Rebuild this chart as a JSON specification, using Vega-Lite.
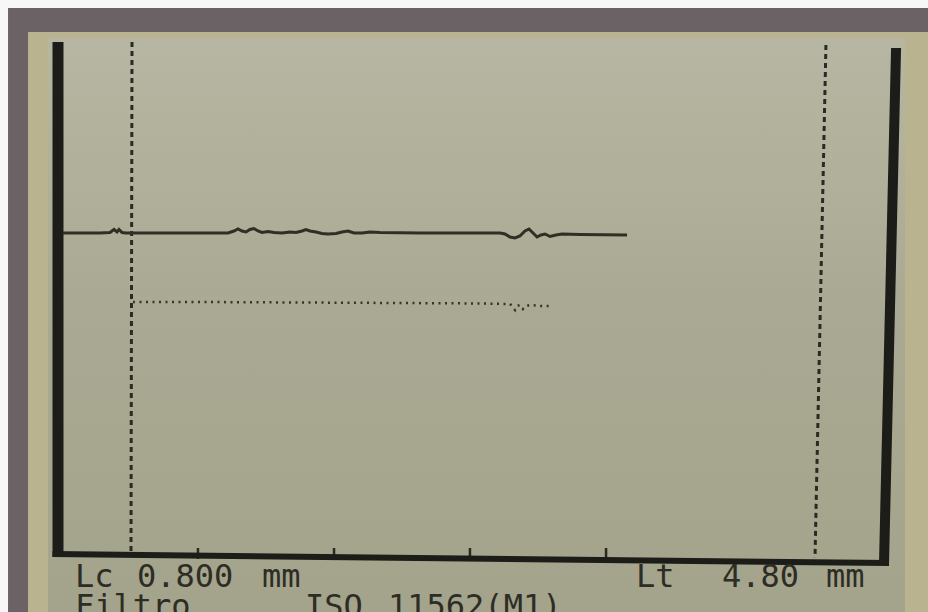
{
  "$schema": "https://vega.github.io/schema/vega-lite/v6.json",
  "width": 928,
  "height": 612,
  "autosize": {"type": "none"},
  "padding": 0,
  "background": "#f7f7f7",
  "config": {
    "view": {"stroke": null},
    "text": {"font": "DejaVu Sans Mono", "fontSize": 32, "align": "left", "baseline": "alphabetic", "color": "#2d2d25"}
  },
  "data": {"values": [{"screen": "profilometro"}]},
  "datasets": {
    "profile": [
      {"x": -0.479, "y": 37.9}, {"x": -0.222, "y": 37.9}, {"x": -0.153, "y": 37.95}, {"x": -0.125, "y": 38.25},
      {"x": -0.104, "y": 38.0}, {"x": -0.090, "y": 38.25}, {"x": -0.069, "y": 37.95}, {"x": -0.042, "y": 37.9},
      {"x": 0.472, "y": 37.9}, {"x": 0.667, "y": 37.9}, {"x": 0.708, "y": 38.1}, {"x": 0.736, "y": 38.3},
      {"x": 0.764, "y": 38.1}, {"x": 0.792, "y": 38.0}, {"x": 0.819, "y": 38.25}, {"x": 0.847, "y": 38.35},
      {"x": 0.875, "y": 38.1}, {"x": 0.903, "y": 37.95}, {"x": 0.944, "y": 38.05}, {"x": 0.986, "y": 37.95},
      {"x": 1.042, "y": 37.9}, {"x": 1.097, "y": 38.0}, {"x": 1.139, "y": 37.95}, {"x": 1.181, "y": 38.1},
      {"x": 1.208, "y": 38.25}, {"x": 1.236, "y": 38.1}, {"x": 1.278, "y": 38.0}, {"x": 1.319, "y": 37.85},
      {"x": 1.361, "y": 37.8}, {"x": 1.417, "y": 37.85}, {"x": 1.458, "y": 38.0}, {"x": 1.5, "y": 38.1},
      {"x": 1.542, "y": 37.9}, {"x": 1.597, "y": 37.9}, {"x": 1.653, "y": 38.0}, {"x": 1.722, "y": 37.95},
      {"x": 2.0, "y": 37.9}, {"x": 2.347, "y": 37.9}, {"x": 2.556, "y": 37.9}, {"x": 2.590, "y": 37.8},
      {"x": 2.625, "y": 37.5}, {"x": 2.660, "y": 37.4}, {"x": 2.694, "y": 37.6}, {"x": 2.729, "y": 38.1},
      {"x": 2.757, "y": 38.3}, {"x": 2.785, "y": 37.9}, {"x": 2.813, "y": 37.5}, {"x": 2.840, "y": 37.7},
      {"x": 2.868, "y": 37.8}, {"x": 2.903, "y": 37.55}, {"x": 2.944, "y": 37.7}, {"x": 2.986, "y": 37.8},
      {"x": 3.111, "y": 37.75}, {"x": 3.438, "y": 37.7}
    ],
    "filtered": [
      {"x": 0.007, "y": 31.0}, {"x": 0.472, "y": 31.0}, {"x": 1.167, "y": 30.95}, {"x": 1.861, "y": 30.9},
      {"x": 2.417, "y": 30.85}, {"x": 2.625, "y": 30.8}, {"x": 2.646, "y": 30.5}, {"x": 2.660, "y": 30.2},
      {"x": 2.674, "y": 30.6}, {"x": 2.694, "y": 30.7}, {"x": 2.715, "y": 30.3}, {"x": 2.736, "y": 30.6},
      {"x": 2.764, "y": 30.7}, {"x": 2.806, "y": 30.65}, {"x": 2.833, "y": 30.6}, {"x": 2.903, "y": 30.6}
    ],
    "ticks": [{"t": 0.458}, {"t": 1.403}, {"t": 2.347}, {"t": 3.292}]
  },
  "layer": [
    {
      "mark": {"type": "rect", "color": "#6b6266"},
      "encoding": {
        "x": {"datum": -0.861, "scale": {"domain": [-0.9167, 5.5278], "nice": false, "zero": false}, "axis": null},
        "x2": {"datum": 5.5278},
        "y": {"datum": 60.4, "scale": {"domain": [0, 61.2], "nice": false, "zero": false}, "axis": null},
        "y2": {"datum": 0}
      }
    },
    {
      "mark": {"type": "rect", "color": "#b9b48f"},
      "encoding": {
        "x": {"datum": -0.722, "axis": null},
        "x2": {"datum": 5.5278},
        "y": {"datum": 58.0, "axis": null},
        "y2": {"datum": 0}
      }
    },
    {
      "mark": {
        "type": "rect",
        "color": {
          "gradient": "linear", "x1": 0, "y1": 0, "x2": 0, "y2": 1,
          "stops": [{"offset": 0, "color": "#b6b6a2"}, {"offset": 0.5, "color": "#a9a993"}, {"offset": 1, "color": "#a4a38b"}]
        }
      },
      "encoding": {
        "x": {"datum": -0.583, "axis": null},
        "x2": {"datum": 5.368},
        "y": {"datum": 57.4, "axis": null},
        "y2": {"datum": 0}
      }
    },
    {
      "mark": {"type": "rule", "color": "#2a2a22", "strokeWidth": 3, "strokeDash": [5, 4]},
      "encoding": {
        "x": {"datum": 0.0, "axis": null}, "y": {"datum": 57.0, "axis": null},
        "x2": {"datum": -0.007}, "y2": {"datum": 5.7}
      }
    },
    {
      "mark": {"type": "rule", "color": "#2a2a22", "strokeWidth": 3, "strokeDash": [5, 4]},
      "encoding": {
        "x": {"datum": 4.819, "axis": null}, "y": {"datum": 56.7, "axis": null},
        "x2": {"datum": 4.743}, "y2": {"datum": 5.4}
      }
    },
    {
      "data": {"name": "ticks"},
      "mark": {"type": "rule", "color": "#2a2a22", "strokeWidth": 2.5},
      "encoding": {
        "x": {"field": "t", "type": "quantitative", "axis": null},
        "y": {"datum": 6.4, "axis": null},
        "y2": {"datum": 5.3}
      }
    },
    {
      "mark": {"type": "rule", "color": "#1c1c18", "strokeWidth": 11},
      "encoding": {
        "x": {"datum": -0.514, "axis": null}, "y": {"datum": 57.0, "axis": null},
        "x2": {"datum": -0.514}, "y2": {"datum": 5.5}
      }
    },
    {
      "mark": {"type": "rule", "color": "#1c1c18", "strokeWidth": 10},
      "encoding": {
        "x": {"datum": 5.306, "axis": null}, "y": {"datum": 56.4, "axis": null},
        "x2": {"datum": 5.222}, "y2": {"datum": 4.7}
      }
    },
    {
      "mark": {"type": "rule", "color": "#1c1c18", "strokeWidth": 6},
      "encoding": {
        "x": {"datum": -0.552, "axis": null}, "y": {"datum": 5.8, "axis": null},
        "x2": {"datum": 5.257}, "y2": {"datum": 4.9}
      }
    },
    {
      "data": {"name": "profile"},
      "mark": {"type": "line", "color": "#2e3026", "strokeWidth": 3},
      "encoding": {
        "x": {"field": "x", "type": "quantitative", "axis": null},
        "y": {"field": "y", "type": "quantitative", "axis": null}
      }
    },
    {
      "data": {"name": "filtered"},
      "mark": {"type": "line", "color": "#34352b", "strokeWidth": 2.5, "strokeDash": [2, 4.5]},
      "encoding": {
        "x": {"field": "x", "type": "quantitative", "axis": null},
        "y": {"field": "y", "type": "quantitative", "axis": null}
      }
    },
    {"mark": {"type": "text", "text": "Lc"}, "encoding": {"x": {"datum": -0.396, "axis": null}, "y": {"datum": 2.5, "axis": null}}},
    {"mark": {"type": "text", "text": "0.800"}, "encoding": {"x": {"datum": 0.035, "axis": null}, "y": {"datum": 2.5, "axis": null}}},
    {"mark": {"type": "text", "text": "mm"}, "encoding": {"x": {"datum": 0.903, "axis": null}, "y": {"datum": 2.5, "axis": null}}},
    {"mark": {"type": "text", "text": "Lt"}, "encoding": {"x": {"datum": 3.5, "axis": null}, "y": {"datum": 2.5, "axis": null}}},
    {"mark": {"type": "text", "text": "4.80"}, "encoding": {"x": {"datum": 4.097, "axis": null}, "y": {"datum": 2.5, "axis": null}}},
    {"mark": {"type": "text", "text": "mm"}, "encoding": {"x": {"datum": 4.819, "axis": null}, "y": {"datum": 2.5, "axis": null}}},
    {"mark": {"type": "text", "text": "Filtro"}, "encoding": {"x": {"datum": -0.396, "axis": null}, "y": {"datum": -0.5, "axis": null}}},
    {"mark": {"type": "text", "text": "ISO"}, "encoding": {"x": {"datum": 1.201, "axis": null}, "y": {"datum": -0.5, "axis": null}}},
    {"mark": {"type": "text", "text": "11562(M1)"}, "encoding": {"x": {"datum": 1.778, "axis": null}, "y": {"datum": -0.5, "axis": null}}}
  ]
}
